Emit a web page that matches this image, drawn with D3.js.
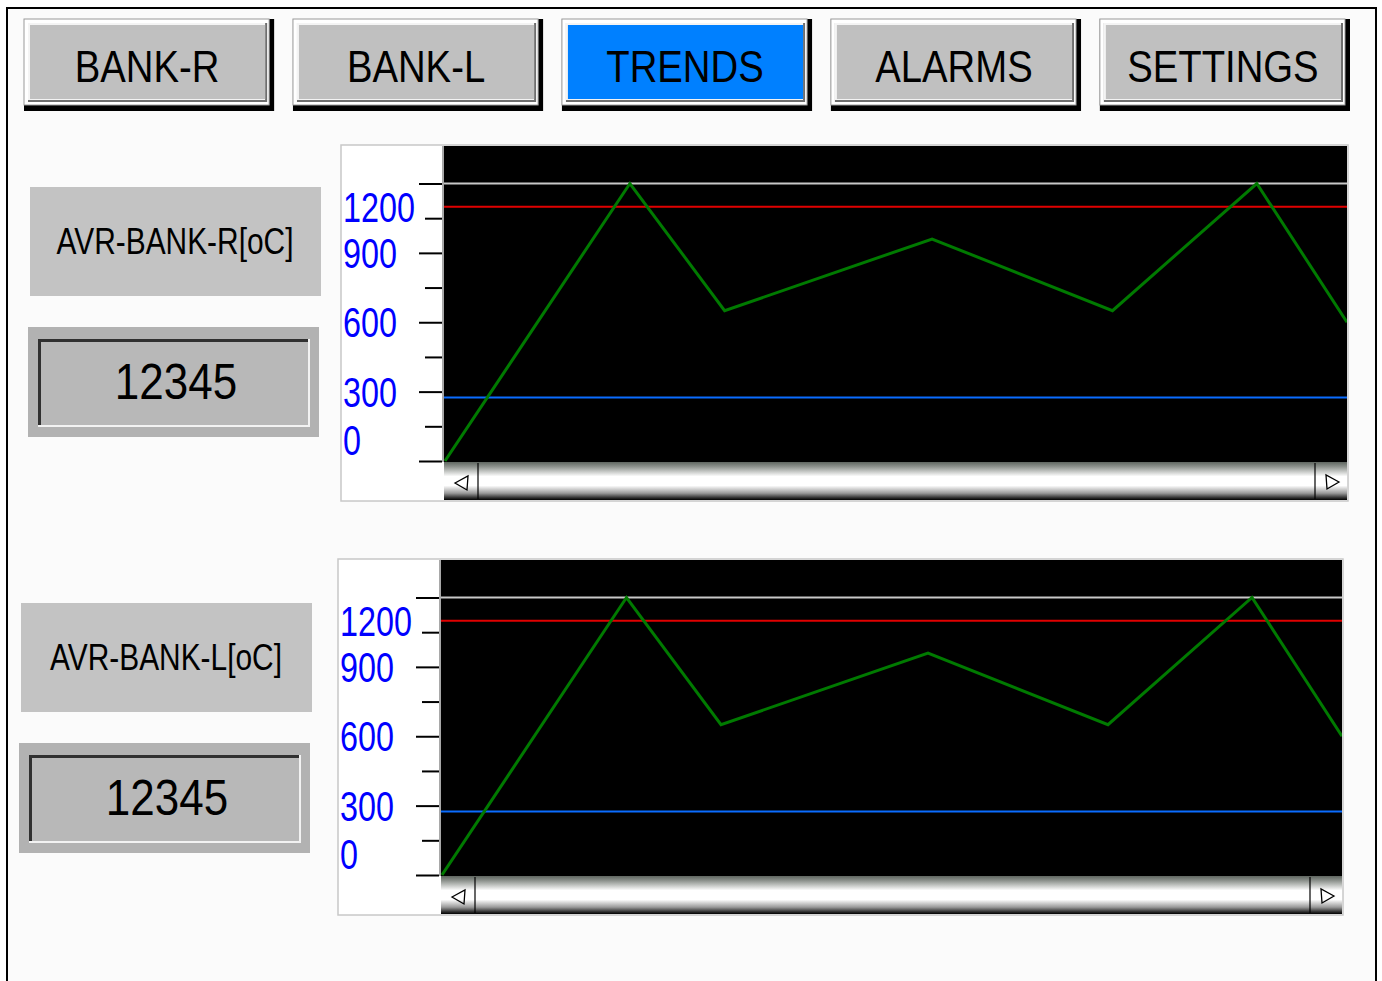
<!DOCTYPE html>
<html>
<head>
<meta charset="utf-8">
<script src="https://cdn.jsdelivr.net/npm/d3@7"></script>
<style>
  body { margin: 0; background: #fff; }
  svg { display: block; }
  text { font-family: "Liberation Sans", Arial, sans-serif; }
</style>
</head>
<body>
<div id="screen"></div>
<script>
// menu
const buttons = ["BANK-R", "BANK-L", "TRENDS", "ALARMS", "SETTINGS"]
const activeButton = "TRENDS"

// trend data (time in % of window, temperature in oC)
const times = [0, 20.5, 31, 54, 74, 90, 100]
const bankR = [0, 1200, 650, 960, 650, 1200, 600]
const bankL = [0, 1200, 650, 960, 650, 1200, 600]

const majorTicks = [0, 300, 600, 900, 1200]
const minorTicks = [150, 450, 750, 1050]
const tickLabels = ["0", "300", "600", "900", "1200"]

const maxLine = 1200
const highLimit = 1100
const lowLimit = 275

const titles = ["AVR-BANK-R[oC]", "AVR-BANK-L[oC]"]
const readouts = ["12345", "12345"]

const W = 1382, H = 981

const svg = d3.select('#screen').append('svg')
  .attr('width', W)
  .attr('height', H)
  .attr('viewBox', [0, 0, W, H])

const defs = svg.append('defs')
const grad = defs.append('linearGradient')
  .attr('id', 'scrollGrad')
  .attr('x1', 0).attr('y1', 0).attr('x2', 0).attr('y2', 1)
grad.selectAll('stop')
  .data([[0, '#5f6660'], [0.12, '#8c918c'], [0.38, '#ffffff'], [0.62, '#ffffff'], [0.82, '#9a9a9a'], [0.94, '#303030'], [1, '#000']])
  .join('stop')
    .attr('offset', d => d[0])
    .attr('stop-color', d => d[1])

// screen frame
svg.append('rect')
  .attr('x', 7).attr('y', 8)
  .attr('width', 1369).attr('height', 1000)
  .attr('fill', '#fbfbfb')
  .attr('stroke', '#000')
  .attr('stroke-width', 2)

// squeeze text horizontally like the HMI font
function squeeze(sel, factor) {
  sel.each(function() {
    let len = this.getComputedTextLength()
    d3.select(this).attr('textLength', len * factor).attr('lengthAdjust', 'spacingAndGlyphs')
  })
}

// ---- menu buttons
let bx = d3.scaleBand()
  .domain(buttons)
  .range([24, 1350])
  .paddingInner(0.07)

let btn = svg.selectAll('g.button')
  .data(buttons)
  .join('g')
    .attr('class', 'button')
    .attr('transform', d => `translate(${bx(d)},19)`)

let bw = bx.bandwidth(), bh = 92
btn.append('rect').attr('width', bw).attr('height', bh).attr('fill', '#000')
btn.append('rect').attr('width', bw - 5).attr('height', bh - 6).attr('fill', '#fff')
  .attr('stroke', '#9a9a9a').attr('stroke-width', 1)
btn.append('rect').attr('x', 4).attr('y', 4).attr('width', bw - 11).attr('height', bh - 13).attr('fill', '#6e6e6e')
btn.append('rect').attr('x', 4).attr('y', 4).attr('width', bw - 13).attr('height', bh - 15).attr('fill', '#f4f4f4')
btn.append('rect').attr('x', 6).attr('y', 6).attr('width', bw - 15).attr('height', bh - 18)
  .attr('fill', d => d === activeButton ? '#0080ff' : '#c0c0c0')
btn.append('text')
  .attr('x', bw / 2 - 2)
  .attr('y', 63)
  .attr('text-anchor', 'middle')
  .style('font-size', '44px')
  .attr('fill', '#000')
  .text(d => d)
  .call(squeeze, 0.87)

// ---- trend panels
const layouts = [
  {chart: [0, 0], box: [0, 0], w: 903},
  {chart: [-3, 414], box: [-9, 416], w: 901}
]

function drawTrend(g, series, id, pw) {
  const left = 444, right = left + pw
  const x = d3.scaleLinear().domain([0, 100]).range([left + 1, right])
  const y = d3.scaleLinear().domain([0, 1200]).range([461, 183.5])

  g.append('rect')
    .attr('x', 341).attr('y', 145)
    .attr('width', pw + 104).attr('height', 356)
    .attr('fill', '#fff')
    .attr('stroke', '#c8c8c8')
    .attr('stroke-width', 1.5)

  g.append('rect')
    .attr('x', left).attr('y', 146)
    .attr('width', pw).attr('height', 316)
    .attr('fill', '#000')

  g.append('line')
    .attr('x1', 443).attr('x2', 443)
    .attr('y1', 146).attr('y2', 462)
    .attr('stroke', '#a8a8a8')
    .attr('stroke-width', 2)

  defs.append('clipPath').attr('id', 'clip' + id)
    .append('rect').attr('x', left).attr('y', 146).attr('width', pw).attr('height', 316)

  let plot = g.append('g').attr('clip-path', `url(#clip${id})`)

  plot.selectAll('line.limit')
    .data([[maxLine, '#c8c8c8'], [highLimit, '#e00000'], [lowLimit, '#0a6cff']])
    .join('line')
      .attr('class', 'limit')
      .attr('x1', left).attr('x2', right)
      .attr('y1', d => y(d[0])).attr('y2', d => y(d[0]))
      .attr('stroke', d => d[1])
      .attr('stroke-width', 2)

  plot.append('path')
    .datum(times.map((t, i) => [t, series[i]]))
    .attr('fill', 'none')
    .attr('stroke', '#007a00')
    .attr('stroke-width', 3)
    .attr('d', d3.line().x(d => x(d[0])).y(d => y(d[1])))

  // ticks
  g.append('g')
    .attr('transform', 'translate(442,0)')
    .call(d3.axisLeft(y).tickValues(majorTicks).tickSize(23).tickFormat(''))
    .call(a => a.select('.domain').remove())
    .call(a => a.selectAll('line').attr('stroke', '#000').attr('stroke-width', 2))
  g.append('g')
    .attr('transform', 'translate(442,0)')
    .call(d3.axisLeft(y).tickValues(minorTicks).tickSize(17).tickFormat(''))
    .call(a => a.select('.domain').remove())
    .call(a => a.selectAll('line').attr('stroke', '#000').attr('stroke-width', 2))

  // labels, end labels pulled inside the panel
  g.selectAll('text.ylab')
    .data(majorTicks)
    .join('text')
      .attr('class', 'ylab')
      .attr('x', 343)
      .attr('y', d => Math.max(y(1200) + 23, Math.min(y(0) - 21, y(d))) + 15)
      .attr('fill', '#0000ff')
      .style('font-size', '42px')
      .text((d, i) => tickLabels[i])
      .call(squeeze, 0.77)

  // scroll bar
  let sb = g.append('g')
  sb.append('rect')
    .attr('x', left).attr('y', 462)
    .attr('width', pw).attr('height', 38)
    .attr('fill', 'url(#scrollGrad)')
  sb.selectAll('line.sep')
    .data([left + 34, right - 32])
    .join('line')
      .attr('class', 'sep')
      .attr('x1', d => d).attr('x2', d => d)
      .attr('y1', 463).attr('y2', 499)
      .attr('stroke', '#000')
      .attr('stroke-width', 1.2)
  sb.append('path')
    .attr('d', `M${left + 11},483 l13,-7 l-1,14 Z`)
    .attr('fill', 'none').attr('stroke', '#000').attr('stroke-width', 1.3)
  sb.append('path')
    .attr('d', `M${right - 8},482 l-13,-7 l1,14 Z`)
    .attr('fill', 'none').attr('stroke', '#000').attr('stroke-width', 1.3)
}

function drawReadout(g, title, value) {
  g.append('rect')
    .attr('x', 30).attr('y', 187)
    .attr('width', 291).attr('height', 109)
    .attr('fill', '#c3c3c3')
  g.append('text')
    .attr('x', 175).attr('y', 254)
    .attr('text-anchor', 'middle')
    .style('font-size', '36px')
    .attr('fill', '#000')
    .text(title)
    .call(squeeze, 0.83)

  g.append('rect')
    .attr('x', 28).attr('y', 327)
    .attr('width', 291).attr('height', 110)
    .attr('fill', '#b2b2b2')
  g.append('rect')
    .attr('x', 38).attr('y', 339)
    .attr('width', 272).attr('height', 88)
    .attr('fill', '#f2f2f2')
  g.append('rect')
    .attr('x', 38).attr('y', 339)
    .attr('width', 270).attr('height', 86)
    .attr('fill', '#303030')
  g.append('rect')
    .attr('x', 41).attr('y', 342)
    .attr('width', 267).attr('height', 83)
    .attr('fill', '#b8b8b8')
  g.append('text')
    .attr('x', 176).attr('y', 399)
    .attr('text-anchor', 'middle')
    .style('font-size', '50px')
    .attr('fill', '#000')
    .text(value)
    .call(squeeze, 0.88)
}

layouts.forEach((l, i) => {
  let chart = svg.append('g').attr('transform', `translate(${l.chart[0]},${l.chart[1]})`)
  drawTrend(chart, i === 0 ? bankR : bankL, i, l.w)
  let box = svg.append('g').attr('transform', `translate(${l.box[0]},${l.box[1]})`)
  drawReadout(box, titles[i], readouts[i])
})
</script>
</body>
</html>
